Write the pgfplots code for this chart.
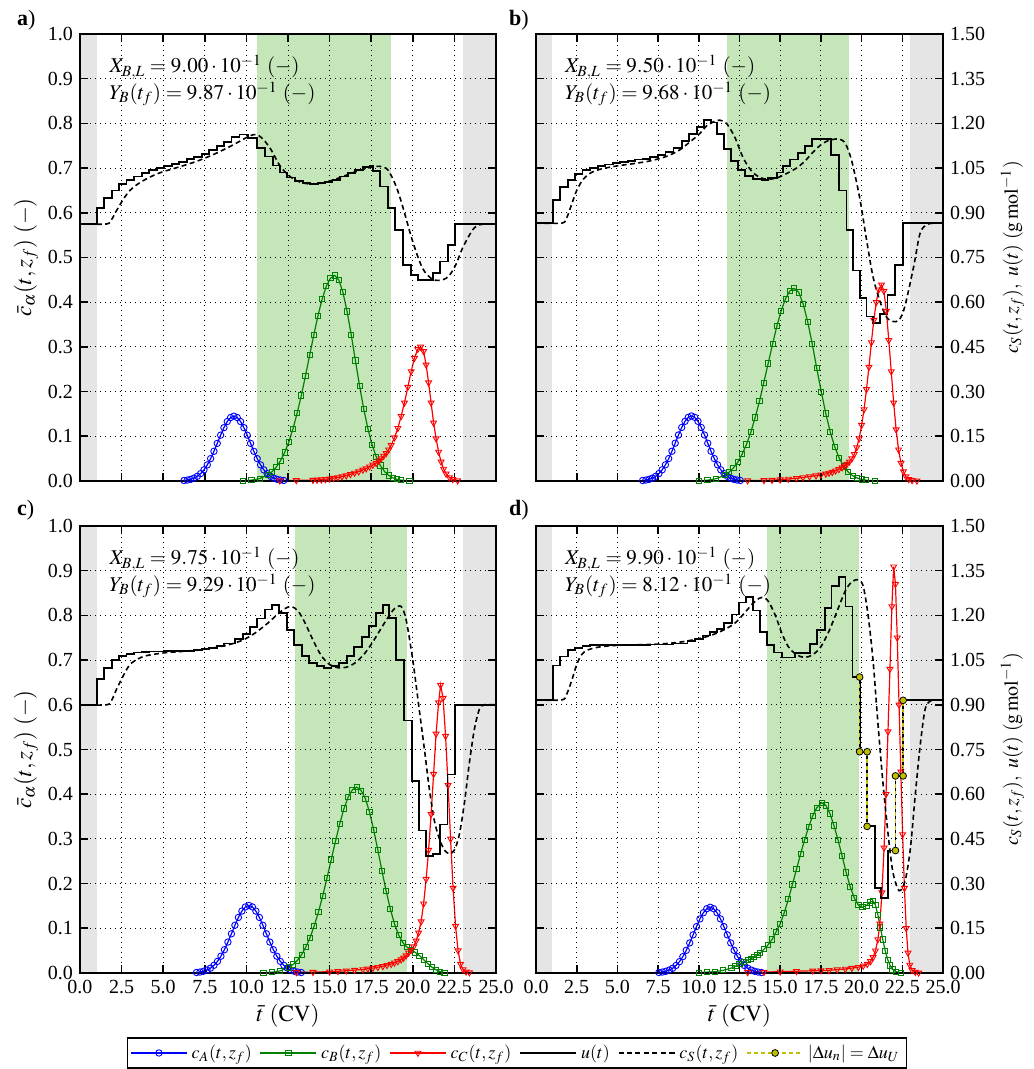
\documentclass[border=0pt]{standalone}
\usepackage{mathptmx}
\usepackage{fontspec}
\setmainfont{Liberation Serif}
\usepackage{pgfplots}
\pgfplotsset{compat=1.18}

\definecolor{shade}{RGB}{229,229,229}
\definecolor{band}{RGB}{197,230,185}
\definecolor{yel}{RGB}{191,191,0}
\definecolor{grn}{RGB}{0,128,0}

\tikzset{note/.style={anchor=west, font=\fontsize{10.5}{12}\selectfont}}

\pgfplotsset{
  panel/.style={
    scale only axis, height=223.5pt, anchor=south west,
    xmin=0, xmax=25, ymin=0, ymax=1,
    xtick={0,2.5,5,7.5,10,12.5,15,17.5,20,22.5,25},
    ytick={0,0.1,0.2,0.3,0.4,0.5,0.6,0.7,0.8,0.9,1},
    grid=major,
    major grid style={black, line width=0.45pt, dash pattern=on 0.6pt off 1.9pt},
    tick align=inside, major tick length=4pt,
    every tick/.style={black, line width=0.8pt},
    axis line style={line width=1.3pt},
    tick label style={font=\fontsize{10}{11}\selectfont},
    label style={font=\fontsize{11.5}{13}\selectfont},
    axis on top,
    legend image code/.code={\draw[mark repeat=2,mark phase=2,##1] plot coordinates {(0pt,0pt) (14pt,0pt) (28pt,0pt)};},
  },
  leftlab/.style={yticklabels={0.0,0.1,0.2,0.3,0.4,0.5,0.6,0.7,0.8,0.9,1.0},
    ylabel={$\bar{c}_{\alpha}(t,z_f)\ (-)$}, ylabel style={yshift=-2pt}},
  rightlab/.style={yticklabel pos=right, ylabel near ticks,
    yticklabels={0.00,0.15,0.30,0.45,0.60,0.75,0.90,1.05,1.20,1.35,1.50},
    ylabel={$c_S(t,z_f),\ u(t)\ (\mathrm{g\,mol^{-1}})$}, ylabel style={yshift=-1pt}},
  nox/.style={xticklabels={}},
  withx/.style={xticklabels={0.0,2.5,5.0,7.5,10.0,12.5,15.0,17.5,20.0,22.5,25.0},
    xlabel={$\bar{t}\ (\mathrm{CV})$}, xlabel style={yshift=-1pt, inner sep=1pt}},
  cA/.style={blue, line width=0.6pt, mark=o, mark size=1.6pt, mark options={solid, line width=0.45pt}},
  cB/.style={grn, line width=0.6pt, mark=square, mark size=1.3pt, mark options={solid, line width=0.45pt}},
  cC/.style={red, line width=0.6pt, mark=triangle, mark size=1.7pt, mark options={solid, rotate=180, line width=0.45pt}},
  uu/.style={black, line width=0.9pt, const plot, mark=none},
  cs/.style={black, line width=0.8pt, dash pattern=on 2.5pt off 1.7pt, mark=none, smooth},
  du/.style={yel, line width=0.8pt, dash pattern=on 2pt off 1.5pt, mark=*, mark size=1.7pt,
    mark options={solid, fill=yel, draw=black, line width=0.4pt}},
  shd/.style={fill=shade, draw=none, forget plot},
  bnd/.style={fill=band, draw=none, forget plot},
}

\begin{document}
\begin{tikzpicture}
\path[use as bounding box] (0,0) rectangle (516.5pt,534.5pt);

% ---------------- a ----------------
\begin{axis}[panel, at={(40pt,294pt)}, width=208pt, leftlab, nox]
\addplot[shd] coordinates {(0,1) (1,1)} \closedcycle;
\addplot[shd] coordinates {(23,1) (25,1)} \closedcycle;
\addplot[bnd] coordinates {(10.62,1) (18.69,1)} \closedcycle;
\addplot[cA] coordinates {(6.25,0.0011) (6.45,0.0021) (6.65,0.0037) (6.85,0.0064) (7.05,0.0105) (7.25,0.0165) (7.45,0.0249) (7.65,0.0361) (7.85,0.0500) (8.05,0.0664) (8.25,0.0842) (8.45,0.1025) (8.65,0.1193) (8.85,0.1330) (9.05,0.1419) (9.25,0.1450) (9.45,0.1419) (9.65,0.1330) (9.85,0.1193) (10.05,0.1025) (10.25,0.0842) (10.45,0.0664) (10.65,0.0500) (10.85,0.0361) (11.05,0.0249) (11.25,0.0165) (11.45,0.0105) (11.65,0.0064) (11.85,0.0037) (12.05,0.0021) (12.25,0.0011)};
\addplot[cB] coordinates {(9.8,0.0006) (10.3,0.0019) (10.8,0.0054) (11.3,0.0138) (11.55,0.0211) (11.8,0.0313) (12.05,0.0454) (12.3,0.0639) (12.55,0.0874) (12.8,0.1168) (13.05,0.1518) (13.3,0.1914) (13.55,0.2351) (13.8,0.2811) (14.05,0.3266) (14.3,0.3694) (14.55,0.4066) (14.8,0.4356) (15.05,0.4536) (15.3,0.46) (15.55,0.4503) (15.8,0.4223) (16.05,0.3795) (16.3,0.3271) (16.55,0.2696) (16.8,0.2130) (17.05,0.1615) (17.3,0.1173) (17.55,0.0814) (17.8,0.0543) (18.05,0.0348) (18.3,0.0213) (18.55,0.0125) (18.8,0.0070) (19.05,0.0038) (19.3,0.0019) (19.8,0.0005)};
\addplot[cC] coordinates {(12.0,0.001) (13.0,0.0015) (14.0,0.002) (14.25,0.0025) (14.5,0.003) (14.75,0.004) (15.0,0.005) (15.25,0.0065) (15.5,0.008) (15.75,0.010) (16.0,0.012) (16.25,0.015) (16.5,0.018) (16.75,0.021) (17.0,0.025) (17.2,0.028) (17.4,0.032) (17.6,0.036) (17.8,0.040) (17.95,0.045) (18.1,0.050) (18.25,0.056) (18.4,0.062) (18.55,0.070) (18.7,0.080) (18.9,0.097) (19.1,0.118) (19.3,0.145) (19.5,0.175) (19.7,0.21) (19.9,0.245) (20.1,0.275) (20.3,0.295) (20.47,0.30) (20.65,0.29) (20.8,0.26) (20.95,0.22) (21.1,0.175) (21.25,0.13) (21.4,0.095) (21.55,0.065) (21.7,0.043) (21.85,0.027) (22.0,0.016) (22.2,0.008) (22.4,0.004) (22.7,0.001)};
\addplot[uu] coordinates {(0,0.575) (1.00,0.610) (1.44,0.633) (1.90,0.650) (2.34,0.664) (2.80,0.674) (3.25,0.681) (3.71,0.689) (4.17,0.695) (4.61,0.700) (5.07,0.705) (5.51,0.710) (5.97,0.714) (6.41,0.720) (6.87,0.725) (7.31,0.732) (7.77,0.740) (8.21,0.749) (8.67,0.758) (9.11,0.769) (9.58,0.775) (10.12,0.767) (10.62,0.745) (11.12,0.726) (11.58,0.706) (12.02,0.690) (12.46,0.679) (12.92,0.672) (13.38,0.666) (13.82,0.664) (14.32,0.666) (14.72,0.668) (15.18,0.674) (15.63,0.681) (16.09,0.689) (16.53,0.696) (16.99,0.702) (17.43,0.704) (17.6,0.693) (18.03,0.659) (18.49,0.610) (18.93,0.562) (19.43,0.484) (19.89,0.461) (20.33,0.450) (21.23,0.465) (21.63,0.491) (22.10,0.528) (22.54,0.575) (25,0.575)};
\addplot[cs] coordinates {(0,0.575) (1.6,0.575) (1.9,0.585) (2.2,0.605) (2.6,0.63) (3.0,0.65) (3.5,0.665) (4.0,0.676) (4.5,0.685) (5.0,0.692) (6.0,0.703) (7.0,0.715) (8.0,0.73) (9.0,0.748) (9.6,0.76) (10.2,0.772) (10.6,0.775) (11.0,0.765) (11.5,0.74) (12.0,0.706) (12.5,0.685) (13.0,0.672) (13.5,0.666) (14.0,0.664) (14.5,0.666) (15.0,0.671) (15.5,0.677) (16.0,0.684) (16.5,0.691) (17.0,0.697) (17.5,0.702) (18.0,0.704) (18.5,0.696) (19.0,0.659) (19.4,0.613) (20.0,0.535) (20.6,0.475) (21.2,0.451) (21.8,0.45) (22.2,0.46) (22.6,0.485) (23.0,0.522) (23.6,0.562) (24.0,0.573) (24.4,0.575) (25,0.575)};
\node[note] at (axis cs:1.35,0.926) {$X_{B,L} = 9.00\cdot 10^{-1}\ (-)$};
\node[note] at (axis cs:1.35,0.866) {$Y_{B}(t_f) = 9.87\cdot 10^{-1}\ (-)$};
\end{axis}

% ---------------- b ----------------
\begin{axis}[panel, at={(268pt,294pt)}, width=203.5pt, rightlab, nox]
\addplot[shd] coordinates {(0,1) (1,1)} \closedcycle;
\addplot[shd] coordinates {(23,1) (25,1)} \closedcycle;
\addplot[bnd] coordinates {(11.71,1) (19.21,1)} \closedcycle;
\addplot[cA] coordinates {(6.55,0.0011) (6.75,0.0021) (6.95,0.0037) (7.15,0.0064) (7.35,0.0105) (7.55,0.0166) (7.75,0.0250) (7.95,0.0362) (8.15,0.0502) (8.35,0.0666) (8.55,0.0845) (8.75,0.1029) (8.95,0.1197) (9.15,0.1334) (9.35,0.1424) (9.55,0.1455) (9.75,0.1424) (9.95,0.1334) (10.15,0.1197) (10.35,0.1029) (10.55,0.0845) (10.75,0.0666) (10.95,0.0502) (11.15,0.0362) (11.35,0.0250) (11.55,0.0166) (11.75,0.0105) (11.95,0.0064) (12.15,0.0037) (12.35,0.0021) (12.55,0.0011)};
\addplot[cB] coordinates {(10.0,0.0006) (10.53,0.0018) (11.06,0.0051) (11.60,0.0129) (11.86,0.0197) (12.13,0.0293) (12.40,0.0425) (12.66,0.0599) (12.93,0.0819) (13.20,0.1095) (13.46,0.142) (13.73,0.179) (13.99,0.220) (14.26,0.263) (14.53,0.306) (14.79,0.346) (15.06,0.381) (15.33,0.408) (15.59,0.425) (15.86,0.431) (16.14,0.422) (16.41,0.396) (16.69,0.356) (16.97,0.306) (17.24,0.253) (17.52,0.200) (17.80,0.151) (18.07,0.110) (18.35,0.0763) (18.63,0.0509) (18.90,0.0326) (19.18,0.0199) (19.46,0.0117) (19.73,0.0066) (20.01,0.0035) (20.29,0.0018) (20.84,0.0004)};
\addplot[cC] coordinates {(13.0,0.001) (14.0,0.0015) (14.5,0.002) (15.0,0.003) (15.5,0.0045) (16.0,0.006) (16.4,0.008) (16.8,0.010) (17.2,0.012) (17.5,0.014) (17.8,0.016) (18.0,0.018) (18.2,0.02) (18.4,0.023) (18.6,0.026) (18.8,0.03) (18.95,0.034) (19.1,0.038) (19.25,0.043) (19.4,0.05) (19.55,0.06) (19.7,0.075) (19.85,0.095) (20.0,0.125) (20.15,0.16) (20.3,0.205) (20.45,0.255) (20.6,0.31) (20.75,0.36) (20.9,0.40) (21.05,0.428) (21.22,0.439) (21.37,0.425) (21.52,0.38) (21.67,0.315) (21.82,0.245) (21.97,0.175) (22.12,0.115) (22.27,0.07) (22.42,0.04) (22.57,0.021) (22.72,0.01) (22.9,0.004) (23.1,0.0015) (23.4,0.0005)};
\addplot[uu] coordinates {(0,0.577) (1.02,0.628) (1.49,0.657) (1.96,0.674) (2.41,0.687) (2.86,0.696) (3.33,0.701) (3.80,0.705) (4.25,0.708) (4.72,0.711) (5.17,0.713) (5.64,0.716) (6.09,0.719) (6.56,0.721) (7.01,0.725) (7.48,0.730) (7.95,0.736) (8.44,0.745) (8.95,0.760) (9.40,0.777) (9.87,0.792) (10.32,0.807) (10.73,0.802) (11.14,0.776) (11.55,0.743) (11.96,0.715) (12.39,0.696) (12.84,0.683) (13.35,0.675) (13.86,0.674) (14.27,0.678) (14.78,0.690) (15.15,0.704) (15.60,0.719) (16.07,0.734) (16.52,0.749) (16.93,0.765) (18.11,0.730) (18.60,0.650) (19.07,0.562) (19.48,0.471) (19.89,0.409) (20.30,0.368) (20.71,0.354) (21.12,0.373) (21.59,0.416) (22.04,0.484) (22.55,0.577) (25,0.577)};
\addplot[cs] coordinates {(0,0.577) (1.6,0.577) (1.9,0.59) (2.2,0.62) (2.5,0.65) (2.9,0.675) (3.4,0.69) (4.0,0.698) (5.0,0.705) (6.0,0.71) (7.0,0.716) (8.0,0.726) (8.8,0.74) (9.5,0.76) (10.0,0.775) (10.5,0.795) (11.0,0.805) (11.3,0.807) (11.7,0.80) (12.2,0.77) (12.7,0.725) (13.2,0.695) (13.7,0.68) (14.2,0.675) (14.8,0.678) (15.4,0.688) (16.0,0.70) (16.5,0.715) (17.0,0.735) (17.5,0.752) (18.0,0.762) (18.6,0.765) (19.0,0.755) (19.4,0.715) (19.9,0.63) (20.3,0.54) (20.7,0.457) (21.1,0.405) (21.5,0.368) (21.9,0.357) (22.3,0.36) (22.65,0.39) (23.2,0.48) (23.6,0.555) (24.1,0.575) (25,0.577)};
\node[note] at (axis cs:1.35,0.926) {$X_{B,L} = 9.50\cdot 10^{-1}\ (-)$};
\node[note] at (axis cs:1.35,0.866) {$Y_{B}(t_f) = 9.68\cdot 10^{-1}\ (-)$};
\end{axis}

% ---------------- c ----------------
\begin{axis}[panel, at={(40pt,48pt)}, width=208pt, leftlab, withx]
\addplot[shd] coordinates {(0,1) (1,1)} \closedcycle;
\addplot[shd] coordinates {(23,1) (25,1)} \closedcycle;
\addplot[bnd] coordinates {(12.92,1) (19.67,1)} \closedcycle;
\addplot[cA] coordinates {(7.00,0.0011) (7.21,0.0021) (7.42,0.0039) (7.63,0.0066) (7.84,0.0109) (8.05,0.0172) (8.26,0.0260) (8.47,0.0376) (8.68,0.0521) (8.89,0.0692) (9.10,0.0877) (9.31,0.1068) (9.52,0.1243) (9.73,0.1385) (9.94,0.1478) (10.15,0.1510) (10.36,0.1478) (10.57,0.1385) (10.78,0.1243) (10.99,0.1068) (11.20,0.0877) (11.41,0.0692) (11.62,0.0521) (11.83,0.0376) (12.04,0.0260) (12.25,0.0172) (12.46,0.0109) (12.67,0.0066) (12.88,0.0039) (13.09,0.0021) (13.30,0.0011)};
\addplot[cB] coordinates {(11.02,0.0005) (11.53,0.0017) (12.04,0.0049) (12.55,0.0125) (12.805,0.019) (13.06,0.028) (13.315,0.041) (13.57,0.058) (13.825,0.079) (14.08,0.106) (14.335,0.137) (14.59,0.173) (14.845,0.213) (15.10,0.254) (15.355,0.295) (15.61,0.334) (15.865,0.368) (16.12,0.394) (16.375,0.410) (16.63,0.416) (16.9,0.408) (17.15,0.39) (17.4,0.36) (17.65,0.32) (17.9,0.275) (18.15,0.228) (18.4,0.183) (18.65,0.143) (18.9,0.11) (19.15,0.085) (19.4,0.068) (19.65,0.058) (19.9,0.052) (20.15,0.046) (20.4,0.039) (20.65,0.03) (20.9,0.021) (21.15,0.013) (21.4,0.007) (21.65,0.003) (21.9,0.001)};
\addplot[cC] coordinates {(13.0,0.0015) (14.0,0.002) (15.0,0.003) (15.5,0.004) (16.0,0.005) (16.5,0.0065) (17.0,0.008) (17.3,0.0095) (17.6,0.011) (17.9,0.013) (18.2,0.015) (18.45,0.0175) (18.7,0.02) (18.9,0.023) (19.1,0.026) (19.3,0.03) (19.45,0.034) (19.6,0.039) (19.75,0.045) (19.9,0.051) (20.05,0.059) (20.2,0.072) (20.35,0.09) (20.5,0.115) (20.65,0.155) (20.8,0.21) (20.95,0.275) (21.1,0.355) (21.25,0.445) (21.4,0.535) (21.55,0.605) (21.67,0.644) (21.82,0.615) (21.97,0.53) (22.12,0.42) (22.27,0.30) (22.42,0.19) (22.57,0.105) (22.72,0.05) (22.87,0.02) (23.02,0.008) (23.2,0.003) (23.4,0.001)};
\addplot[uu] coordinates {(0,0.599) (1.00,0.658) (1.44,0.683) (1.90,0.700) (2.34,0.709) (2.80,0.714) (3.25,0.717) (3.71,0.718) (4.17,0.719) (5.07,0.720) (5.97,0.721) (6.87,0.723) (7.31,0.725) (7.77,0.727) (8.21,0.731) (8.67,0.737) (9.31,0.748) (9.78,0.759) (10.20,0.774) (10.66,0.793) (11.12,0.813) (11.56,0.824) (11.98,0.806) (12.42,0.767) (12.86,0.733) (13.32,0.709) (13.78,0.694) (14.22,0.686) (14.68,0.683) (15.12,0.686) (15.58,0.694) (16.03,0.709) (16.49,0.729) (16.93,0.752) (17.39,0.776) (17.79,0.806) (18.19,0.824) (18.59,0.794) (18.99,0.700) (19.47,0.565) (19.93,0.429) (20.39,0.319) (20.79,0.261) (21.19,0.267) (21.63,0.332) (22.08,0.444) (22.54,0.599) (25,0.599)};
\addplot[cs] coordinates {(0,0.6) (1.6,0.6) (1.9,0.61) (2.2,0.635) (2.6,0.665) (3.0,0.69) (3.5,0.703) (4.0,0.71) (5.0,0.716) (6.0,0.719) (7.0,0.722) (8.0,0.727) (9.0,0.735) (9.8,0.745) (10.5,0.76) (11.2,0.78) (11.8,0.80) (12.3,0.815) (12.7,0.82) (13.1,0.81) (13.5,0.785) (14.0,0.745) (14.5,0.71) (15.0,0.69) (15.5,0.683) (16.0,0.684) (16.5,0.693) (17.0,0.71) (17.5,0.735) (18.0,0.765) (18.5,0.795) (18.9,0.815) (19.3,0.82) (19.6,0.79) (20.0,0.70) (20.35,0.60) (20.7,0.50) (21.0,0.41) (21.3,0.34) (21.6,0.30) (21.9,0.275) (22.2,0.267) (22.5,0.275) (22.8,0.31) (23.1,0.38) (23.4,0.47) (23.7,0.545) (24.0,0.59) (24.3,0.6) (25,0.6)};
\node[note] at (axis cs:1.35,0.926) {$X_{B,L} = 9.75\cdot 10^{-1}\ (-)$};
\node[note] at (axis cs:1.35,0.866) {$Y_{B}(t_f) = 9.29\cdot 10^{-1}\ (-)$};
\end{axis}

% ---------------- d ----------------
\begin{axis}[panel, at={(268pt,48pt)}, width=203.5pt, rightlab, withx,
  legend columns=6,
  legend style={at={(-0.0467,-0.143)}, anchor=north, draw=black, line width=0.8pt,
    font=\fontsize{9}{10}\selectfont, inner sep=1.5pt,
    /tikz/every even column/.append style={column sep=2pt}},
  legend cell align=left]
\addplot[shd] coordinates {(0,1) (1,1)} \closedcycle;
\addplot[shd] coordinates {(23,1) (25,1)} \closedcycle;
\addplot[bnd] coordinates {(14.17,1) (19.85,1)} \closedcycle;
\addplot[cA] coordinates {(7.55,0.0011) (7.76,0.0021) (7.97,0.0038) (8.18,0.0065) (8.39,0.0106) (8.60,0.0168) (8.81,0.0253) (9.02,0.0366) (9.23,0.0507) (9.44,0.0673) (9.65,0.0854) (9.86,0.1039) (10.07,0.1210) (10.28,0.1348) (10.49,0.1438) (10.70,0.1470) (10.91,0.1438) (11.12,0.1348) (11.33,0.1210) (11.54,0.1039) (11.75,0.0854) (11.96,0.0673) (12.17,0.0507) (12.38,0.0366) (12.59,0.0253) (12.80,0.0168) (13.01,0.0106) (13.22,0.0065) (13.43,0.0038) (13.64,0.0021) (13.85,0.0011)};
\addlegendentry{$c_A(t,z_f)$}
\addplot[cB] coordinates {(10.0,0.001) (10.5,0.002) (11.0,0.003) (11.5,0.006) (12.0,0.011) (12.25,0.015) (12.5,0.02) (12.75,0.024) (13.0,0.029) (13.2,0.032) (13.4,0.036) (13.6,0.040) (13.75,0.044) (14.0,0.053) (14.25,0.063) (14.5,0.075) (14.75,0.092) (15.0,0.11) (15.25,0.135) (15.5,0.165) (15.75,0.198) (16.0,0.232) (16.25,0.266) (16.5,0.298) (16.75,0.327) (17.0,0.352) (17.25,0.37) (17.54,0.381) (17.8,0.375) (18.05,0.357) (18.3,0.33) (18.55,0.298) (18.8,0.262) (19.05,0.225) (19.3,0.193) (19.55,0.168) (19.8,0.152) (20.05,0.147) (20.3,0.151) (20.5,0.158) (20.7,0.161) (20.85,0.152) (21.0,0.13) (21.15,0.102) (21.3,0.075) (21.45,0.05) (21.6,0.03) (21.75,0.017) (21.9,0.008) (22.1,0.003) (22.4,0.001)};
\addlegendentry{$c_B(t,z_f)$}
\addplot[cC] coordinates {(13.0,0.0015) (14.0,0.002) (15.0,0.003) (16.0,0.004) (17.0,0.005) (17.5,0.0055) (18.0,0.006) (18.5,0.0075) (19.0,0.009) (19.4,0.011) (19.8,0.013) (20.1,0.016) (20.35,0.02) (20.55,0.026) (20.7,0.035) (20.85,0.05) (21.0,0.075) (21.12,0.11) (21.25,0.18) (21.38,0.28) (21.5,0.40) (21.62,0.54) (21.74,0.68) (21.86,0.82) (21.97,0.909) (22.08,0.87) (22.19,0.75) (22.3,0.60) (22.41,0.45) (22.52,0.31) (22.63,0.19) (22.74,0.10) (22.85,0.045) (22.96,0.018) (23.1,0.006) (23.3,0.002) (23.5,0.0005)};
\addlegendentry{$c_C(t,z_f)$}
\addplot[uu] coordinates {(0,0.611) (1.02,0.688) (1.49,0.708) (1.96,0.723) (2.41,0.727) (2.86,0.731) (3.33,0.733) (5.20,0.734) (7.00,0.735) (8.40,0.737) (9.31,0.742) (9.77,0.748) (10.24,0.755) (10.69,0.762) (11.14,0.770) (11.57,0.783) (12.02,0.802) (12.47,0.829) (12.90,0.841) (13.31,0.811) (13.76,0.762) (14.17,0.733) (14.62,0.717) (15.09,0.706) (15.90,0.716) (16.82,0.736) (17.27,0.768) (17.74,0.817) (18.15,0.865) (18.60,0.886) (19.01,0.820) (19.44,0.662) (19.88,0.495) (20.34,0.328) (20.80,0.190) (21.20,0.168) (21.63,0.274) (22.08,0.441) (22.55,0.610) (25,0.610)};
\addlegendentry{$u(t)$}
\addplot[cs] coordinates {(0,0.611) (1.6,0.611) (1.9,0.625) (2.2,0.655) (2.5,0.69) (2.8,0.712) (3.2,0.723) (4.0,0.73) (5.0,0.733) (6.0,0.734) (7.0,0.735) (8.0,0.737) (9.0,0.741) (10.0,0.748) (10.8,0.756) (11.5,0.767) (12.2,0.782) (12.8,0.805) (13.3,0.826) (13.7,0.838) (14.0,0.84) (14.3,0.83) (14.7,0.80) (15.1,0.76) (15.5,0.73) (16.0,0.712) (16.5,0.706) (17.0,0.712) (17.5,0.73) (18.0,0.765) (18.5,0.81) (19.0,0.855) (19.4,0.875) (19.8,0.88) (20.1,0.865) (20.4,0.80) (20.7,0.70) (21.0,0.56) (21.3,0.43) (21.6,0.32) (21.9,0.23) (22.2,0.19) (22.4,0.185) (22.7,0.21) (23.0,0.28) (23.3,0.40) (23.6,0.51) (23.9,0.59) (24.2,0.608) (24.5,0.611) (25,0.611)};
\addlegendentry{$c_S(t,z_f)$}
\addplot[du] coordinates {(19.88,0.662) (19.88,0.495)};
\addlegendentry{$|\Delta u_n| = \Delta u_U$}
\addplot[du, forget plot] coordinates {(20.34,0.495) (20.34,0.328)};
\addplot[du, forget plot] coordinates {(22.08,0.274) (22.08,0.441)};
\addplot[du, forget plot] coordinates {(22.55,0.441) (22.55,0.610)};
\node[note] at (axis cs:1.35,0.926) {$X_{B,L} = 9.90\cdot 10^{-1}\ (-)$};
\node[note] at (axis cs:1.35,0.866) {$Y_{B}(t_f) = 8.12\cdot 10^{-1}\ (-)$};
\end{axis}

\node[anchor=west, font=\fontsize{11}{12}\selectfont] at (5pt,524.5pt) {\textbf{a})};
\node[anchor=west, font=\fontsize{11}{12}\selectfont] at (251pt,524.5pt) {\textbf{b})};
\node[anchor=west, font=\fontsize{11}{12}\selectfont] at (5pt,279.5pt) {\textbf{c})};
\node[anchor=west, font=\fontsize{11}{12}\selectfont] at (251pt,279.5pt) {\textbf{d})};
\end{tikzpicture}
\end{document}
